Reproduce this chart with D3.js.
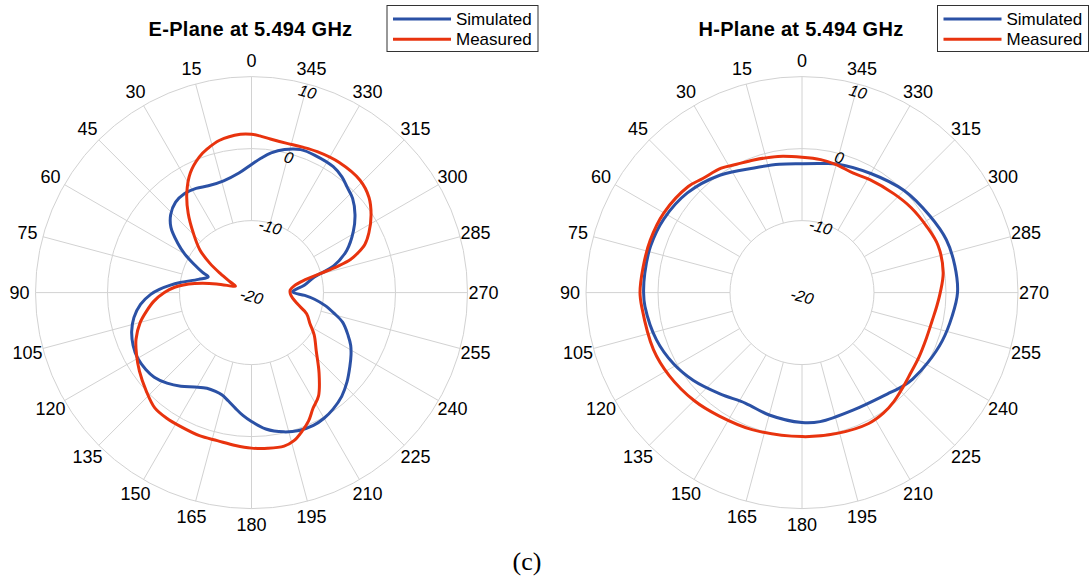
<!DOCTYPE html>
<html>
<head>
<meta charset="utf-8">
<script src="https://cdn.jsdelivr.net/npm/d3@7"></script>
<style>
  body { margin: 0; background: #fff; }
  svg { display: block; font-family: "Liberation Sans", Arial, Helvetica, sans-serif; }
</style>
</head>
<body>
<script>
// readings off the patterns: angle in degrees, gain in dB
var eSimAngle = [0, 6, 14, 22, 28, 34, 40, 46, 51, 56, 60, 64, 67.5, 70, 76, 82, 85, 88, 91, 96, 102, 108, 114, 120, 126, 131, 137, 143, 149, 155, 160, 164, 168, 172, 176, 180, 186, 193, 199, 205, 210, 215, 221, 227, 233, 238, 242, 246, 252, 256, 260, 264, 267, 271, 278, 284, 288, 294, 301, 307, 313, 318, 322, 327, 335, 341, 347, 352, 356];
var eSimGain = [-2.2, -3.3, -4.0, -4.0, -3.6, -3.4, -3.6, -4.4, -5.6, -7.6, -9.3, -11.2, -12.6, -13.6, -12.4, -10, -8.6, -7.2, -6.0, -4.5, -3.3, -2.5, -2.0, -1.75, -1.85, -2.1, -2.8, -3.7, -4.7, -5.35, -5.4, -5.2, -4.6, -3.8, -2.9, -2.1, -0.95, -0.15, 0.25, 0.35, 0.15, -0.25, -0.9, -1.85, -2.9, -3.7, -4.4, -5.3, -6.7, -8.2, -9.6, -11.2, -12.6, -14.3, -12.6, -11, -8, -5.5, -3.5, -2.0, -0.8, -0.2, 0.4, 0.85, 1.0, 1.0, 0.4, -0.4, -1.3];

var eMeasAngle = [0, 4, 12, 17, 21, 27, 33, 38.6, 44.5, 50.4, 54.8, 58.5, 63, 68, 70.5, 76, 81, 86, 90, 95, 100, 105, 112, 118, 125, 133, 140, 146, 152, 160, 167, 174, 180, 186, 192, 196, 200, 204, 208, 213, 220, 228, 236, 242, 249, 256, 262, 268, 274, 279, 283, 285.5, 287, 288.5, 290.5, 293, 297, 303, 309, 316, 326, 335, 341, 347, 353, 357];
var eMeasGain = [2.0, 2.05, 1.6, 0.9, 0.2, -1.3, -3.5, -5.9, -8.5, -10.7, -12.9, -14.9, -16.6, -17.6, -17.4, -15, -12, -9.3, -7.9, -6.4, -5.2, -4.0, -2.7, -1.9, -1.0, 0.0, 0.9, 1.05, 1.05, 1.15, 1.1, 1.35, 1.6, 1.75, 1.8, 1.4, 0.5, -0.5, -1.8, -2.9, -5.4, -7.9, -9.5, -10.8, -11.8, -13.4, -14.2, -14.6, -14.6, -14, -12.6, -10, -7.5, -5.5, -4.2, -2.9, -1.7, -0.2, 1.0, 1.7, 1.8, 1.6, 1.4, 1.3, 1.5, 1.8];

var hSimAngle = [0, 10, 21, 35, 49, 62, 73, 83, 90, 95, 108, 119, 129, 141, 153, 165, 180, 188, 204, 220, 227, 232, 241, 251, 261, 270, 280, 290, 301, 315, 330, 345, 352];
var hSimGain = [-2.1, -1.9, -1.45, -0.1, 1.1, 1.75, 2.0, 2.0, 2.0, 1.9, 1.25, 0.4, -0.6, -1.9, -2.75, -2.4, -1.95, -1.9, -2.2, -1.6, -0.9, -0.5, 0.0, 0.6, 1.1, 1.6, 1.55, 1.35, 0.7, 0.05, -0.9, -1.5, -1.9];

var hMeasAngle = [0, 10, 20, 27, 33, 41, 47, 60, 71, 81, 90, 95, 111, 122, 135, 146, 160, 180, 194, 207, 214, 220, 227, 233, 241, 250, 258, 264, 270, 278, 289, 298, 308, 317, 329, 337, 345, 352];
var hMeasGain = [-1.2, -0.8, -0.4, 0.0, 0.6, 1.0, 1.6, 2.15, 2.3, 2.35, 2.5, 2.35, 2.1, 1.75, 1.2, 0.65, 0.25, 0.0, 0.15, 0.4, 0.2, -0.2, -0.8, -1.2, -1.45, -1.6, -1.5, -1.2, -0.8, -0.2, 0.0, -0.4, -0.8, -1.25, -1.7, -1.95, -1.6, -1.35];

var angleTicks = d3.range(0, 360, 15);
var radiusTicks = [-20, -10, 0, 10];
var plotTitles = ["E-Plane at 5.494 GHz", "H-Plane at 5.494 GHz"];
var seriesNames = ["Simulated", "Measured"];
var seriesColors = ["#2b51a5", "#e8330e"];

var width = 1091;
var height = 582;
var outerR = 216;

var svg = d3.select("body")
    .append("svg")
    .attr("width", width)
    .attr("height", height);

// radius scale, -20 dB sits at the centre
var r = d3.scaleLinear()
    .domain([-20, 10])
    .range([0, outerR]);

// angles go counterclockwise from the top
var a = d3.scaleLinear()
    .domain([0, 360])
    .range([0, -2 * Math.PI]);

var line = d3.lineRadial()
    .angle(function (d) { return a(d[0]); })
    .radius(function (d) { return r(d[1]); })
    .curve(d3.curveCatmullRomClosed.alpha(0.5));

function pairs(angles, gains) {
    return angles.map(function (t, i) { return [t, gains[i]]; });
}

function drawPolar(cx, cy, title, sim, meas) {
    var g = svg.append("g")
        .attr("transform", "translate(" + cx + "," + cy + ")");

    // rings
    g.selectAll(".ring")
        .data(radiusTicks.filter(function (v) { return v > -20; }))
        .enter().append("circle")
        .attr("r", function (v) { return r(v); })
        .attr("fill", "none")
        .attr("stroke", "#d2d2d2")
        .attr("stroke-width", 1);

    // spokes from the -10 ring outward
    g.selectAll(".spoke")
        .data(angleTicks)
        .enter().append("line")
        .attr("x1", function (t) { return r(-10) * Math.sin(a(t)); })
        .attr("y1", function (t) { return -r(-10) * Math.cos(a(t)); })
        .attr("x2", function (t) { return r(10) * Math.sin(a(t)); })
        .attr("y2", function (t) { return -r(10) * Math.cos(a(t)); })
        .attr("stroke", "#d2d2d2")
        .attr("stroke-width", 1);

    // angle labels
    g.selectAll(".alabel")
        .data(angleTicks)
        .enter().append("text")
        .attr("x", function (t) { return 232 * Math.sin(a(t)); })
        .attr("y", function (t) { return -232 * Math.cos(a(t)); })
        .attr("text-anchor", "middle")
        .attr("dominant-baseline", "central")
        .style("font-size", "18px")
        .text(function (t) { return t; });

    // radius labels along 345 deg
    var ra = a(345);
    g.selectAll(".rlabel")
        .data(radiusTicks)
        .enter().append("text")
        .attr("transform", function (v) {
            var x = r(v) * Math.sin(ra);
            var y = -r(v) * Math.cos(ra) + 4;
            if (v == 10) y += 4;
            return "translate(" + x + "," + y + ") rotate(15)";
        })
        .attr("text-anchor", "middle")
        .attr("dominant-baseline", "central")
        .style("font-size", "16px")
        .style("font-style", "italic")
        .text(function (v) { return v; });

    g.append("path")
        .attr("d", line(sim))
        .attr("fill", "none")
        .attr("stroke", seriesColors[0])
        .attr("stroke-width", 3);

    g.append("path")
        .attr("d", line(meas))
        .attr("fill", "none")
        .attr("stroke", seriesColors[1])
        .attr("stroke-width", 3);

    // title
    svg.append("text")
        .attr("x", cx - 1)
        .attr("y", 35.5)
        .attr("text-anchor", "middle")
        .style("font-size", "20px")
        .style("font-weight", "bold")
        .style("letter-spacing", "0.3px")
        .text(title);

    // legend
    var lg = svg.append("g")
        .attr("transform", "translate(" + (cx + 135.5) + ",5.5)");
    lg.append("rect")
        .attr("width", 151)
        .attr("height", 46)
        .attr("fill", "#fff")
        .attr("stroke", "#333")
        .attr("stroke-width", 1);
    seriesNames.forEach(function (name, i) {
        var y = 13.5 + i * 20.2;
        lg.append("line")
            .attr("x1", 6).attr("x2", 64)
            .attr("y1", y).attr("y2", y)
            .attr("stroke", seriesColors[i])
            .attr("stroke-width", 3);
        lg.append("text")
            .attr("x", 69)
            .attr("y", y)
            .attr("dominant-baseline", "central")
            .style("font-size", "17px")
            .text(name);
    });
}

drawPolar(251.5, 292.6, plotTitles[0], pairs(eSimAngle, eSimGain), pairs(eMeasAngle, eMeasGain));
drawPolar(802, 292.6, plotTitles[1], pairs(hSimAngle, hSimGain), pairs(hMeasAngle, hMeasGain));

// panel caption
svg.append("text")
    .attr("x", 527)
    .attr("y", 570)
    .attr("text-anchor", "middle")
    .style("font-family", "'Liberation Serif', 'Times New Roman', serif")
    .style("font-size", "26px")
    .text("(c)");
</script>
</body>
</html>
